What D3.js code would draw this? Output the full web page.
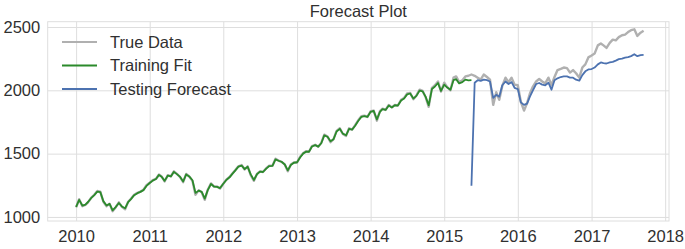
<!DOCTYPE html>
<html><head><meta charset="utf-8">
<script src="https://cdn.jsdelivr.net/npm/d3@7"></script>
<style>
body{margin:0;background:#fff}
svg text{font-family:"Liberation Sans",Arial,sans-serif}
</style>
</head><body>
<svg id="chart" width="685" height="249"></svg>
<script>
// Semi-monthly observations (1st and 16th of each month), starting Jan 2010
const trueData = [
  1076,1140,1085,1095,1115,1150,1175,1205,1200,1120,1085,1105,1045,1075,1115,1080,1060,1120,1145,1175,1190,1200,1215,1250,
  1270,1290,1300,1335,1320,1280,1330,1320,1360,1340,1315,1275,1340,1320,1285,1175,1210,1195,1135,1215,1265,1240,1240,1225,
  1262,1295,1315,1345,1370,1400,1410,1375,1400,1330,1285,1340,1360,1355,1385,1405,1405,1460,1445,1435,1415,1360,1415,1430,
  1430,1475,1505,1520,1515,1560,1570,1555,1585,1650,1635,1590,1615,1680,1700,1655,1640,1700,1690,1725,1765,1795,1800,1790,
  1835,1840,1760,1835,1855,1845,1885,1865,1885,1880,1925,1940,1975,1980,1930,1960,2005,1995,1945,1870,2020,2040,2070,1990,
  2060,2025,2000,2100,2110,2065,2080,2110,2115,2125,2115,2100,2085,2125,2105,2085,1885,1985,1925,2035,2100,2065,2100,2045,
  2040,1910,1840,1900,1975,2030,2070,2090,2070,2055,2100,2040,2105,2160,2170,2180,2175,2140,2160,2135,2100,2180,2205,2260,
  2275,2290,2355,2370,2355,2335,2375,2400,2395,2420,2435,2440,2460,2475,2482,2430,2455,2470
];
const trainingFit = [
  1080,1135,1090,1098,1118,1148,1172,1200,1196,1125,1090,1103,1052,1078,1110,1083,1068,1117,1143,1172,1188,1198,1212,1245,
  1268,1287,1300,1332,1318,1285,1327,1320,1356,1338,1316,1280,1336,1320,1290,1190,1208,1198,1145,1212,1260,1240,1238,1228,
  1262,1292,1313,1342,1368,1397,1406,1378,1396,1336,1292,1337,1358,1355,1382,1402,1404,1455,1444,1436,1414,1368,1410,1428,
  1432,1470,1502,1516,1515,1556,1567,1555,1582,1644,1633,1598,1614,1675,1696,1658,1645,1695,1690,1720,1760,1790,1797,1790,
  1830,1838,1770,1830,1852,1845,1880,1865,1882,1880,1920,1935,1968,1975,1935,1956,1998,1992,1948,1882,2010,2030,2058,1995,
  2045,2022,2005,2080,2088,2055,2065,2085,2078,2080
];
const testStartIndex = 129;
const testingForecast = [
  1246,
  2060,2080,2075,2085,2080,2070,1940,1965,1950,2040,2070,2050,2065,2020,
  2010,1905,1885,1895,1950,2000,2050,2058,2045,2040,2060,2005,2080,2095,2105,2110,2110,2100,2100,2084,2076,2120,2150,2165,
  2168,2180,2205,2220,2215,2212,2220,2225,2235,2246,2250,2258,2262,2270,2285,2270,2278,2280
];
const xTickYears = [2010,2011,2012,2013,2014,2015,2016,2017,2018];
const yTickValues = [1000,1500,2000,2500];
const seriesNames = ["True Data","Training Fit","Testing Forecast"];
const seriesColors = ["#b0b0b0","#2b8a2b","#4c72b0"];
const titleText = "Forecast Plot";

function dateOf(k){
  return new Date(2010 + Math.floor(k/24), Math.floor((k%24)/2), (k%2) ? 16 : 1);
}

const svg = d3.select("#chart");
const L = 47.7, R = 669, T = 21.7, B = 221;
const x = d3.scaleTime().domain([new Date(2009,7,13), new Date(2018,0,20)]).range([L, R]);
const y = d3.scaleLinear().domain([968, 2542]).range([B, T]);

const gridColor = "#dedede";
const textColor = "#303030";

// x grid + labels
const gx = svg.append("g").attr("transform", `translate(0,${B})`)
  .call(d3.axisBottom(x).tickValues(xTickYears.map(yy => new Date(yy,0,1)))
    .tickFormat(d3.timeFormat("%Y")).tickSize(-(B-T)).tickPadding(9.5));
gx.select(".domain").remove();
gx.selectAll("line").attr("stroke", gridColor).attr("stroke-width", 1);
gx.selectAll("text").attr("fill", textColor).attr("font-size", "16.5px");

// y grid + labels
const gy = svg.append("g").attr("transform", `translate(${L},0)`)
  .call(d3.axisLeft(y).tickValues(yTickValues).tickFormat(d3.format("d")).tickSize(-(R-L)).tickPadding(7.5));
gy.select(".domain").remove();
gy.selectAll("line").attr("stroke", gridColor).attr("stroke-width", 1);
gy.selectAll("text").attr("fill", textColor).attr("font-size", "16.5px");

// frame
svg.append("rect").attr("x", L).attr("y", T).attr("width", R-L).attr("height", B-T)
  .attr("fill", "none").attr("stroke", gridColor).attr("stroke-width", 1);

const line = d3.line().x(d => x(d.date)).y(d => y(d.value));
const trueSeries = trueData.map((v,i) => ({date: dateOf(i), value: v}));
const trainSeries = trainingFit.map((v,i) => ({date: dateOf(i), value: v}));
const testSeries = testingForecast.map((v,i) => ({date: dateOf(testStartIndex + i), value: v}));

svg.append("path").datum(trueSeries).attr("d", line).attr("fill","none")
  .attr("stroke", seriesColors[0]).attr("stroke-width", 2.4).attr("stroke-linejoin","round");
svg.append("path").datum(trainSeries).attr("d", line).attr("fill","none")
  .attr("stroke", seriesColors[1]).attr("stroke-width", 1.8).attr("stroke-linejoin","round");
svg.append("path").datum(testSeries).attr("d", line).attr("fill","none")
  .attr("stroke", seriesColors[2]).attr("stroke-width", 1.8).attr("stroke-linejoin","round");

// title
svg.append("text").attr("x", (L+R)/2).attr("y", 17).attr("text-anchor","middle")
  .attr("font-size","16.5px").attr("fill", textColor).text(titleText);

// legend
const legendY = [42, 65.5, 89];
seriesNames.forEach((name, i) => {
  svg.append("line").attr("x1", 62).attr("x2", 97).attr("y1", legendY[i]).attr("y2", legendY[i])
    .attr("stroke", seriesColors[i]).attr("stroke-width", 2);
  svg.append("text").attr("x", 110).attr("y", legendY[i]).attr("dy","0.35em")
    .attr("font-size","16.5px").attr("fill", textColor).text(name);
});
</script>
</body></html>
